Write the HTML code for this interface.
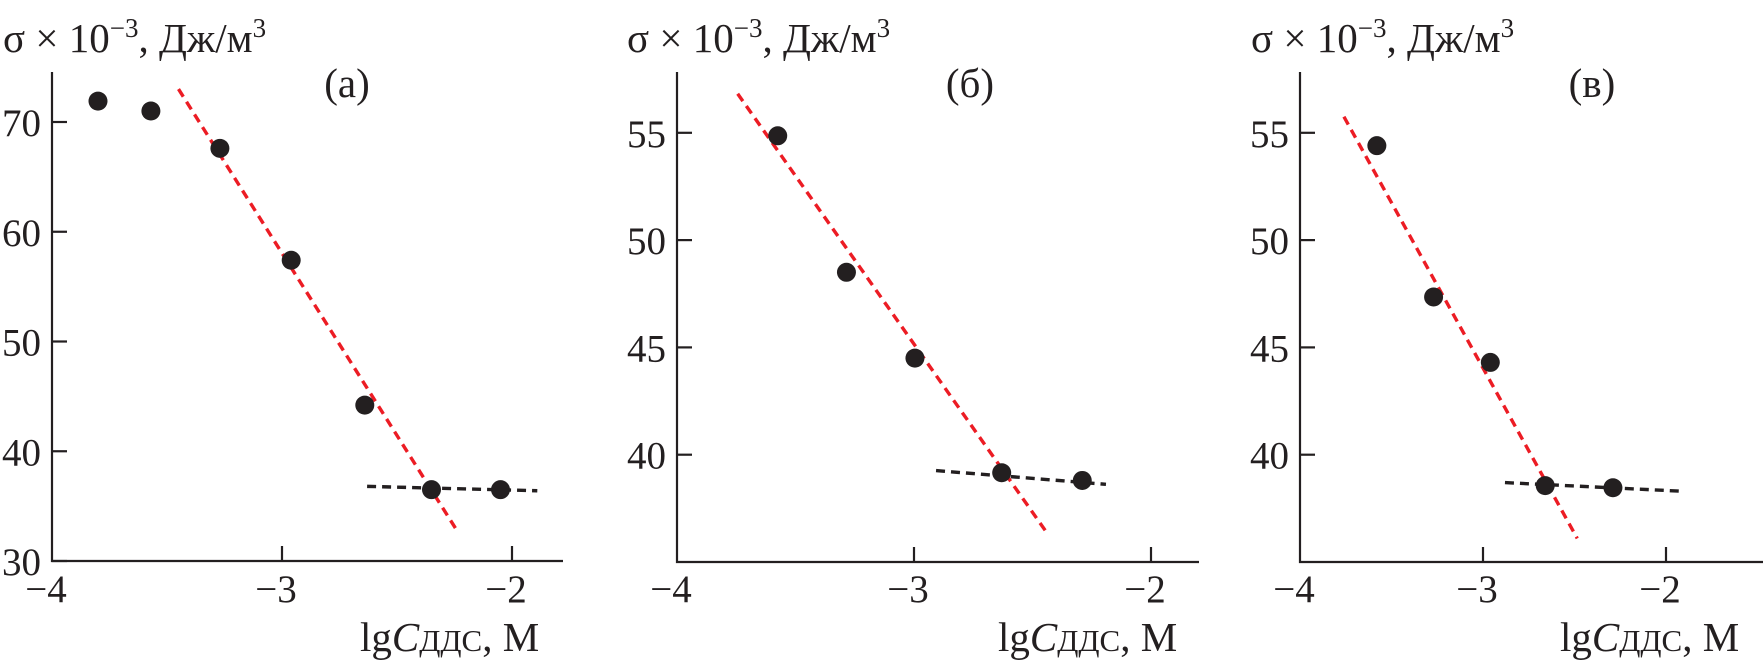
<!DOCTYPE html>
<html><head><meta charset="utf-8"><style>
html,body{margin:0;padding:0;background:#fff;}
svg{display:block;}
text{font-family:"Liberation Serif",serif;fill:#231f20;}
</style></head><body>
<svg id="chart" width="1763" height="666" viewBox="0 0 1763 666" xmlns="http://www.w3.org/2000/svg"></svg>
<script>
// Panel (a)
const aX = [-3.80, -3.57, -3.27, -2.96, -2.64, -2.35, -2.05];
const aY = [71.9, 71.0, 67.6, 57.4, 44.2, 36.5, 36.5];
const aRedX = [-3.45, -2.24];
const aRedY = [73.0, 32.8];
const aBlkX = [-2.63, -1.89];
const aBlkY = [36.8, 36.4];
const aYTicks = [30, 40, 50, 60, 70];
// Panel (б)
const bX = [-3.575, -3.285, -2.996, -2.63, -2.29];
const bY = [54.86, 48.5, 44.5, 39.16, 38.8];
const bRedX = [-3.744, -2.441];
const bRedY = [56.82, 36.39];
const bBlkX = [-2.907, -2.19];
const bBlkY = [39.26, 38.62];
const bYTicks = [40, 45, 50, 55];
// Panel (в)
const cX = [-3.58, -3.27, -2.96, -2.66, -2.29];
const cY = [54.4, 47.35, 44.3, 38.56, 38.46];
const cRedX = [-3.76, -2.485];
const cRedY = [55.75, 36.1];
const cBlkX = [-2.88, -1.92];
const cBlkY = [38.7, 38.3];
const cYTicks = [40, 45, 50, 55];
const xTicks = [-4, -3, -2];
const xTickLabels = ["\u22124", "\u22123", "\u22122"];

const NS = "http://www.w3.org/2000/svg";
const svg = document.getElementById("chart");
function el(tag, attrs, parent) {
  const e = document.createElementNS(NS, tag);
  for (const k in attrs) e.setAttribute(k, attrs[k]);
  (parent || svg).appendChild(e);
  return e;
}

const FS = 41;
const TFS = 39;
const panels = [
  {id:"a", letter:"(а)", x0:52, unit:230, xEnd:563, yBottom:561, yTop:72, vMin:30, pxPerV:10.975,
   xs:aX, ys:aY, rx:aRedX, ry:aRedY, kx:aBlkX, ky:aBlkY, yt:aYTicks, titleX:3, letterX:347, xlabX:360},
  {id:"b", letter:"(б)", x0:677, unit:237, xEnd:1199, yBottom:562, yTop:72, vMin:35, pxPerV:21.46,
   xs:bX, ys:bY, rx:bRedX, ry:bRedY, kx:bBlkX, ky:bBlkY, yt:bYTicks, titleX:627, letterX:970, xlabX:998},
  {id:"c", letter:"(в)", x0:1300, unit:183, xEnd:1763, yBottom:562, yTop:72, vMin:35, pxPerV:21.46,
   xs:cX, ys:cY, rx:cRedX, ry:cRedY, kx:cBlkX, ky:cBlkY, yt:cYTicks, titleX:1251, letterX:1592, xlabX:1560}
];

panels.forEach(p => {
  const sx = v => p.x0 + (v + 4) * p.unit;
  const sy = v => p.yBottom - (v - p.vMin) * p.pxPerV;
  const g = el("g", {});
  
  

  const ax = el("path", {d:`M${p.x0},${p.yTop} V${p.yBottom} H${p.xEnd}`, fill:"none", stroke:"#231f20", "stroke-width":2.2}, g);
  
  

  p.yt.forEach(v => {
    const y = sy(v);
    const t = el("line", {x1:p.x0, x2:p.x0+15, y1:y, y2:y, stroke:"#231f20", "stroke-width":2.2}, g);
    
    
    const l = el("text", {x:p.x0-11, y:y+14, "text-anchor":"end", "font-size":TFS}, g);
    l.textContent = String(v);
    
    
  });
  xTicks.forEach((v, i) => {
    const x = sx(v);
    if (i > 0) {
      const t = el("line", {x1:x, x2:x, y1:p.yBottom, y2:p.yBottom-15, stroke:"#231f20", "stroke-width":2.2}, g);
      
      
    }
    const l = el("text", {x:x-6, y:602, "text-anchor":"middle", "font-size":TFS}, g);
    l.textContent = xTickLabels[i];
    
    
  });

  const red = el("line", {x1:sx(p.rx[0]), y1:sy(p.ry[0]), x2:sx(p.rx[1]), y2:sy(p.ry[1]), stroke:"#ec1c24", "stroke-width":3.4, "stroke-dasharray":"9,6"}, g);
  
  
  const blk = el("line", {x1:sx(p.kx[0]), y1:sy(p.ky[0]), x2:sx(p.kx[1]), y2:sy(p.ky[1]), stroke:"#231f20", "stroke-width":3.4, "stroke-dasharray":"9,6"}, g);
  
  

  p.xs.forEach((v, i) => {
    const c = el("circle", {cx:sx(v), cy:sy(p.ys[i]), r:9.5, fill:"#231f20"}, g);
    
    
  });

  const title = el("text", {x:p.titleX, y:52, "font-size":FS}, g);
  title.innerHTML = 'σ × 10<tspan dy="-15" font-size="27">−3</tspan><tspan dy="15">, Дж/м</tspan><tspan dy="-15" font-size="27">3</tspan>';
  
  

  const let_ = el("text", {x:p.letterX, y:97, "text-anchor":"middle", "font-size":FS}, g);
  let_.textContent = p.letter;
  
  

  const xl = el("text", {x:p.xlabX, y:651, "font-size":FS}, g);
  xl.innerHTML = 'lg<tspan font-style="italic">C</tspan><tspan font-size="31">ДДС</tspan>, М';
  
  
});
</script>
</body></html>
